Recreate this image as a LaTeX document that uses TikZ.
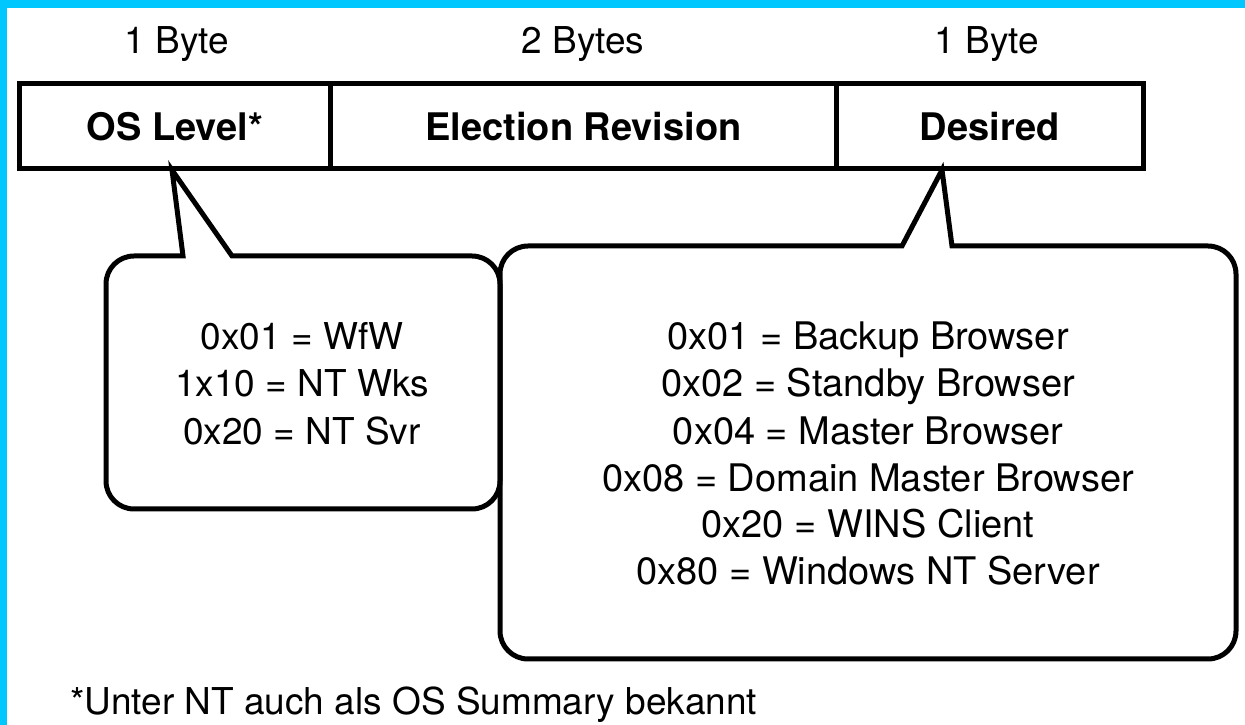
\documentclass[tikz,border=0pt]{standalone}
\usepackage{fontspec}
\setmainfont{TeX Gyre Heros}
\definecolor{framecyan}{RGB}{0,200,255}
\begin{document}
\begin{tikzpicture}[x=1pt,y=1pt,
  cell/.style={draw, line width=5pt, rectangle, inner sep=0pt, outer sep=0pt,
    minimum height=84.5pt, font=\fontsize{38}{46}\selectfont\bfseries},
  hdr/.style={anchor=base, inner sep=0pt, font=\fontsize{37}{46}\selectfont},
  txt/.style={anchor=base, inner sep=0pt, font=\fontsize{37}{46}\selectfont},
  rtxt/.style={anchor=base, inner sep=0pt, font=\fontsize{38}{46}\selectfont},
  bubble/.style={draw, line width=5pt, line join=miter}
]
\useasboundingbox (0,0) rectangle (1245,725);
\fill[white] (0,0) rectangle (1245,725);
\fill[framecyan] (0,717) rectangle (1245,725);
\fill[framecyan] (0,0) rectangle (6.5,725);

% header labels
\node[hdr] (h1) at (177,671) {1 Byte};
\node[hdr] (h2) at (583,671) {2 Bytes};
\node[hdr] (h3) at (987,671) {1 Byte};

% field cells
\node[cell, minimum width=311.5pt] (c1) at (174.75,598.75) {OS Level*};
\node[cell, minimum width=506pt] (c2) at (583.5,598.75) {Election Revision};
\node[cell, minimum width=306.5pt] (c3) at (989.75,598.75) {Desired};

% pointer tips
\coordinate (t1) at (172,555);
\coordinate (t2) at (942,555);

% left callout
\draw[bubble] (183,469) -- (134,469) arc[start angle=90,end angle=180,radius=28pt]
  -- (106,244) arc[start angle=180,end angle=270,radius=28pt]
  -- (472,216) arc[start angle=270,end angle=360,radius=28pt]
  -- (500,441) arc[start angle=0,end angle=90,radius=28pt]
  -- (232,469) -- (t1) -- cycle;

% right callout
\draw[bubble] (902,479) -- (528,479) arc[start angle=90,end angle=180,radius=28pt]
  -- (500,94) arc[start angle=180,end angle=270,radius=28pt]
  -- (1208,66) arc[start angle=270,end angle=360,radius=28pt]
  -- (1236,451) arc[start angle=0,end angle=90,radius=28pt]
  -- (952,479) -- (t2) -- cycle;

% left callout text
\node[txt] (l1) at (302,375) {0x01 = WfW};
\node[txt] (l2) at (302,328) {1x10 = NT Wks};
\node[txt] (l3) at (302,280) {0x20 = NT Svr};

% right callout text
\node[rtxt] (r1) at (868,375) {0x01 = Backup Browser};
\node[rtxt] (r2) at (868,328) {0x02 = Standby Browser};
\node[rtxt] (r3) at (868,280) {0x04 = Master Browser};
\node[rtxt] (r4) at (868,233) {0x08 = Domain Master Browser};
\node[rtxt] (r5) at (868,187) {0x20 = WINS Client};
\node[rtxt] (r6) at (868,140) {0x80 = Windows NT Server};

% footnote
\node[anchor=base west, inner sep=0pt, font=\fontsize{37}{46}\selectfont] (fn) at (70,10)
  {*Unter NT auch als OS Summary bekannt};
\end{tikzpicture}
\end{document}
